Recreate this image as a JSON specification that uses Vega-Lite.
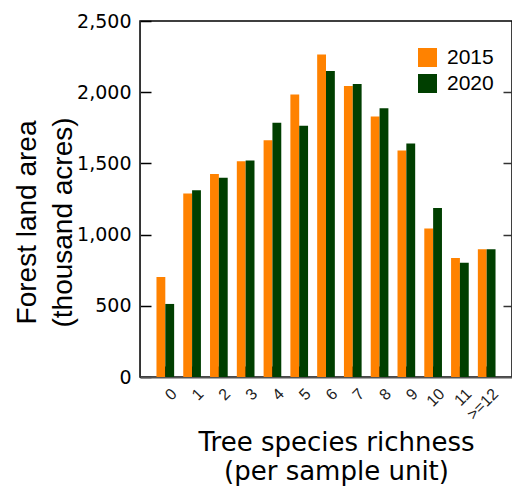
{
  "$schema": "https://vega.github.io/schema/vega-lite/v6.json",
  "width": 372,
  "height": 356,
  "autosize": "none",
  "padding": {"left": 140, "top": 21, "right": 0, "bottom": 119},
  "config": {
    "font": "Liberation Sans",
    "view": {"stroke": "#000", "strokeWidth": 1.5}
  },
  "data": {
    "values": [
      {"richness": "0", "year": "2015", "area": 702},
      {"richness": "0", "year": "2020", "area": 513},
      {"richness": "1", "year": "2015", "area": 1288},
      {"richness": "1", "year": "2020", "area": 1311},
      {"richness": "2", "year": "2015", "area": 1426},
      {"richness": "2", "year": "2020", "area": 1400},
      {"richness": "3", "year": "2015", "area": 1515},
      {"richness": "3", "year": "2020", "area": 1520},
      {"richness": "4", "year": "2015", "area": 1662},
      {"richness": "4", "year": "2020", "area": 1786},
      {"richness": "5", "year": "2015", "area": 1983},
      {"richness": "5", "year": "2020", "area": 1765},
      {"richness": "6", "year": "2015", "area": 2264},
      {"richness": "6", "year": "2020", "area": 2149},
      {"richness": "7", "year": "2015", "area": 2044},
      {"richness": "7", "year": "2020", "area": 2058},
      {"richness": "8", "year": "2015", "area": 1829},
      {"richness": "8", "year": "2020", "area": 1887},
      {"richness": "9", "year": "2015", "area": 1590},
      {"richness": "9", "year": "2020", "area": 1639},
      {"richness": "10", "year": "2015", "area": 1042},
      {"richness": "10", "year": "2020", "area": 1187},
      {"richness": "11", "year": "2015", "area": 836},
      {"richness": "11", "year": "2020", "area": 803},
      {"richness": ">=12", "year": "2015", "area": 897},
      {"richness": ">=12", "year": "2020", "area": 897}
    ]
  },
  "resolve": {
    "scale": {"x": "independent", "y": "independent"},
    "axis": {"x": "independent", "y": "independent"}
  },
  "layer": [
    {
      "mark": {"type": "bar"},
      "encoding": {
        "x": {
          "field": "richness",
          "type": "nominal",
          "sort": ["0","1","2","3","4","5","6","7","8","9","10","11",">=12"],
          "scale": {"paddingInner": 0.34, "paddingOuter": 0.615},
          "axis": {
            "orient": "bottom",
            "title": ["Tree species richness", "(per sample unit)"],
            "titleFont": "DejaVu Sans",
            "titleFontSize": 26,
            "titleFontWeight": "normal",
            "titleColor": "#000",
            "titleX": 196,
            "titleY": 73,
            "titleAlign": "center",
            "titleBaseline": "alphabetic",
            "titleLineHeight": 29,
            "labelAngle": -45,
            "labelAlign": "right",
            "labelBaseline": "middle",
            "labelFontSize": 16,
            "labelColor": "#222",
            "labelOffset": 9,
            "labelPadding": 14,
            "ticks": false,
            "grid": false,
            "domainColor": "#555",
            "domainWidth": 2
          }
        },
        "xOffset": {"field": "year", "type": "nominal", "scale": {"paddingInner": 0, "paddingOuter": 0}},
        "y": {
          "field": "area",
          "type": "quantitative",
          "scale": {"domain": [0, 2500], "nice": false},
          "axis": {
            "orient": "left",
            "values": [0, 500, 1000, 1500, 2000, 2500],
            "format": ",d",
            "grid": true,
            "gridColor": "#000",
            "gridWidth": 1.5,
            "gridDash": [11, 2000],
            "title": ["Forest land area", "(thousand acres)"],
            "titleFontSize": 28,
            "titleFontWeight": "normal",
            "titleColor": "#000",
            "titleX": -105,
            "titleY": 201,
            "titleAngle": 270,
            "titleAlign": "center",
            "titleBaseline": "alphabetic",
            "titleLineHeight": 36,
            "labelFont": "DejaVu Sans",
            "labelFontSize": 19,
            "labelColor": "#000",
            "ticks": false,
            "labelPadding": 9,
            "domainColor": "#333"
          }
        },
        "color": {
          "field": "year",
          "type": "nominal",
          "scale": {"domain": ["2015", "2020"], "range": ["#FF8200", "#003F00"]},
          "legend": {
            "title": null,
            "orient": "none",
            "legendX": 277,
            "legendY": 26,
            "padding": 0,
            "symbolType": "square",
            "symbolSize": 361,
            "symbolStrokeWidth": 0,
            "labelFontSize": 21,
            "labelColor": "#000",
            "labelOffset": 9,
            "rowPadding": 4
          }
        }
      }
    },
    {
      "mark": {"type": "bar", "opacity": 0},
      "encoding": {
        "x": {
          "field": "richness",
          "type": "nominal",
          "sort": ["0","1","2","3","4","5","6","7","8","9","10","11",">=12"],
          "scale": {"paddingInner": 0.34, "paddingOuter": 0.615},
          "axis": {
            "orient": "top",
            "title": null,
            "labels": false,
            "ticks": false,
            "domain": false,
            "grid": true,
            "gridColor": "#000",
            "gridWidth": 1.5,
            "gridDash": [11, 2000]
          }
        },
        "y": {
          "field": "area",
          "type": "quantitative",
          "scale": {"domain": [0, 2500], "nice": false},
          "axis": {
            "orient": "right",
            "title": null,
            "labels": false,
            "ticks": false,
            "domain": false,
            "values": [500, 1000, 1500, 2000],
            "grid": true,
            "gridColor": "#333",
            "gridWidth": 1.5,
            "gridDash": [9, 2000]
          }
        }
      }
    }
  ]
}
